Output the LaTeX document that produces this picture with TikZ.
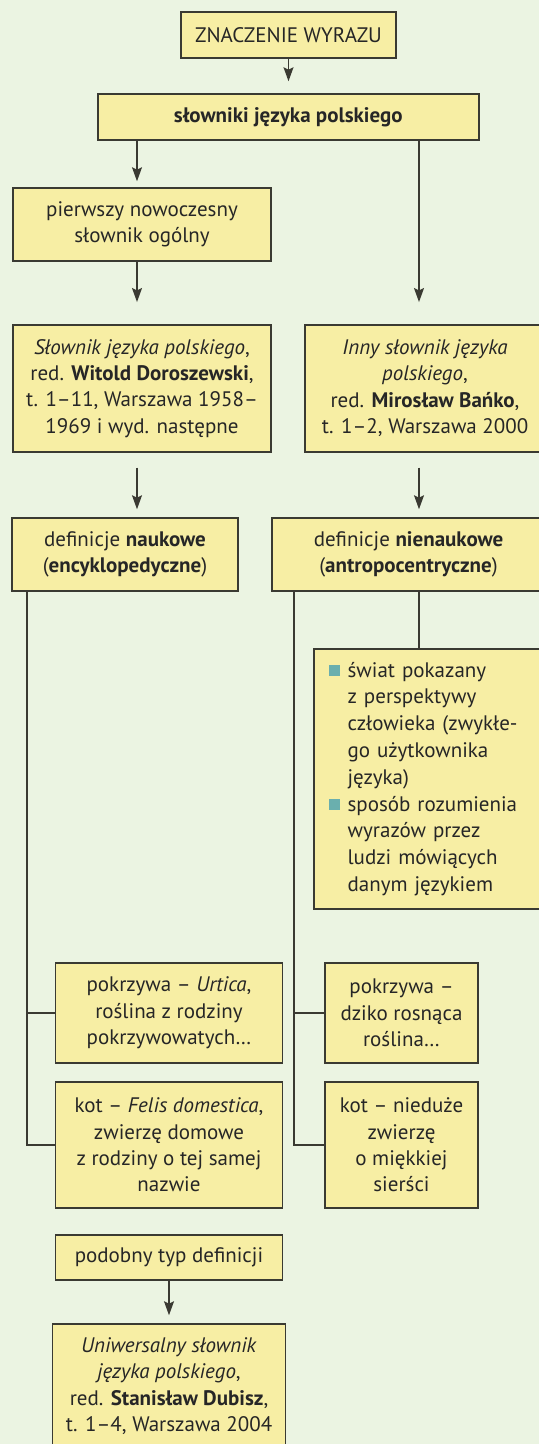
\documentclass[tikz,border=0pt]{standalone}
\usepackage{fontspec}
\setmainfont{PT Sans}
\usepackage{tikz}
\usetikzlibrary{arrows.meta}
\usetikzlibrary{positioning}
\definecolor{tlo}{HTML}{EBF4E2}
\definecolor{ramka}{HTML}{F7EEA4}
\definecolor{kreska}{HTML}{3A3A32}
\definecolor{napis}{HTML}{262626}
\definecolor{kwadrat}{HTML}{6AAFAE}
\tikzset{
    pole/.style={rectangle, draw=kreska, fill=ramka, line width=0.75pt, align=center,
        inner sep=0pt, text=napis, font=\fontsize{10.5}{13.2}\selectfont},
    strz/.style={draw=kreska, line width=0.65pt,
        -{Stealth[length=7pt,width=5pt,inset=1.2pt]}},
    galaz/.style={draw=kreska, line width=0.65pt},
}
\newcommand{\kw}{\makebox[9.3pt][l]{\textcolor{kwadrat}{\rule[0.8pt]{5.5pt}{5.5pt}}}}
\newcommand{\wc}{\hspace*{9.3pt}}
\begin{document}
\begin{tikzpicture}[x=0.5pt,y=-0.5pt]
\fill [tlo] (0,0) rectangle (539,1444);
\useasboundingbox (0,0) rectangle (539,1444);
\clip (0,0) rectangle (539,1444);

\coordinate (kolL) at (137,0);
\coordinate (kolR) at (419,0);
\coordinate (drzL) at (27,0);
\coordinate (drzR) at (294,0);

\node [pole, minimum width=107.5pt, minimum height=23pt] at (288.5,35) (znacz) {ZNACZENIE WYRAZU};
\node [pole, minimum width=190.5pt, minimum height=23pt] at (288.3,117) (slown) {\textbf{słowniki języka polskiego}};
\node [pole, minimum width=129pt, minimum height=36.5pt] at (142,224.5) (pierw) {pierwszy nowoczesny\\słownik ogólny};

\node [pole, minimum width=129pt, minimum height=63.5pt] at (142,388.3) (dorosz)
    {\textit{Słownik języka polskiego},\\red. \textbf{Witold Doroszewski},\\t. 1–11, Warszawa 1958–\\1969 i wyd. następne};
\node [pole, minimum width=120pt, minimum height=63.5pt] at (425,388.3) (banko)
    {\textit{Inny słownik języka}\\\textit{polskiego},\\red. \textbf{Mirosław Bańko},\\t. 1–2, Warszawa 2000};

\node [pole, minimum width=113pt, minimum height=36.5pt] at (125,554.5) (def1) {definicje \textbf{naukowe}\\(\textbf{encyklopedyczne})};
\node [pole, minimum width=136.5pt, minimum height=36.5pt] at (408.5,554.5) (def2) {definicje \textbf{nienaukowe}\\(\textbf{antropocentryczne})};

\node [pole, align=left, text width=100.5pt, inner xsep=7.5pt, minimum height=130pt, font=\fontsize{10.5}{13.4}\selectfont] at (429.5,779) (cechy)
    {\kw świat pokazany\\\wc z perspektywy\\\wc człowieka (zwykłe-\\\wc go użytkownika\\\wc języka)\\
     \kw sposób rozumienia\\\wc wyrazów przez\\\wc ludzi mówiących\\\wc danym językiem};

\node [pole, minimum width=113.5pt, minimum height=50pt] at (169,1013) (pok1) {pokrzywa – \textit{Urtica},\\roślina z rodziny\\pokrzywowatych…};
\node [pole, minimum width=76.5pt, minimum height=50pt] at (401.5,1013) (pok2) {pokrzywa –\\dziko rosnąca\\roślina…};
\node [pole, minimum width=113.5pt, minimum height=63pt] at (169,1145) (kot1) {kot – \textit{Felis domestica},\\zwierzę domowe\\z rodziny o tej samej\\nazwie};
\node [pole, minimum width=76.5pt, minimum height=63pt] at (401.5,1145) (kot2) {kot – nieduże\\zwierzę\\o miękkiej\\sierści};

\node [pole, minimum width=113.5pt, minimum height=22.5pt] at (169,1257.5) (podob) {podobny typ definicji};
\node [pole, minimum width=116.5pt, minimum height=62pt] at (169,1386) (uniw)
    {\textit{Uniwersalny słownik}\\\textit{języka polskiego},\\red. \textbf{Stanisław Dubisz},\\t. 1–4, Warszawa 2004};

\draw [strz, shorten >=6pt] (znacz.south) -- (znacz.south |- slown.north);
\draw [strz, shorten >=3pt] (slown.south -| kolL) -- (pierw.north -| kolL);
\draw [strz, shorten >=11pt] (pierw.south -| kolL) -- (dorosz.north -| kolL);
\draw [strz, shorten >=11pt] (slown.south -| kolR) -- (banko.north -| kolR);
\draw [strz, shorten <=7.5pt, shorten >=4pt] (dorosz.south -| kolL) -- (def1.north -| kolL);
\draw [strz, shorten <=7.5pt, shorten >=4pt] (banko.south -| kolR) -- (def2.north -| kolR);

\draw [galaz] (def2.south -| kolR) -- (cechy.north -| kolR);
\draw [galaz] (def1.south -| drzL) |- (kot1.west);
\draw [galaz] (pok1.west -| drzL) -- (pok1.west);
\draw [galaz] (def2.south -| drzR) |- (kot2.west);
\draw [galaz] (pok2.west -| drzR) -- (pok2.west);

\draw [strz, shorten >=4pt] (podob.south) -- (uniw.north);
\end{tikzpicture}
\end{document}
